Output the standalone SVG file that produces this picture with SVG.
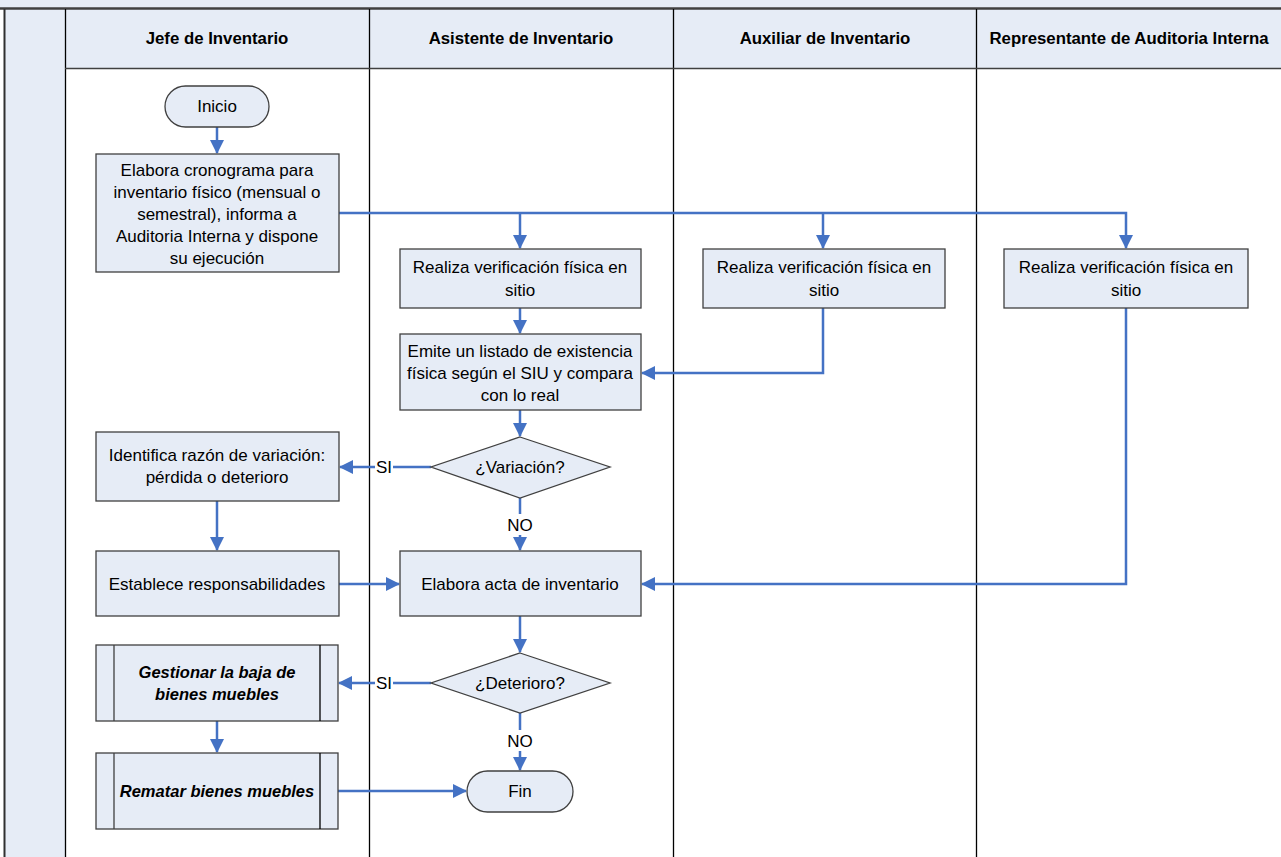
<svg xmlns="http://www.w3.org/2000/svg" width="1281" height="857" viewBox="0 0 1281 857">
<style>
.bx{fill:#E6ECF6;stroke:#404040;stroke-width:1.3}
.t{font-family:"Liberation Sans",Arial,sans-serif;font-size:17px;fill:#000;text-anchor:middle;dominant-baseline:central}
.h{font-weight:bold;font-size:16.8px}
.bi{font-weight:bold;font-style:italic;font-size:16.5px}
.c{fill:none;stroke:#4472C4;stroke-width:2.5}
.lane{stroke:#000;stroke-width:1.3}
</style>
<defs>
<marker id="a" markerWidth="14" markerHeight="14" refX="13" refY="7" orient="auto" markerUnits="userSpaceOnUse">
<path d="M0,0 L14,7 L0,14 Z" fill="#4472C4"/>
</marker>
</defs>
<g id="frame">
<rect x="0" y="0" width="1281" height="9" fill="#E6ECF6"/>
<rect x="5" y="9" width="60" height="848" fill="#E6ECF6"/>
<rect x="65" y="9" width="1216" height="59" fill="#E6ECF6"/>
<line x1="0" y1="8.5" x2="1281" y2="8.5" stroke="#404040" stroke-width="2.5"/>
<line x1="4.5" y1="9" x2="4.5" y2="857" stroke="#303030" stroke-width="2"/>
<line class="lane" x1="65.5" y1="9" x2="65.5" y2="857"/>
<line class="lane" x1="369.5" y1="9" x2="369.5" y2="857"/>
<line class="lane" x1="673.5" y1="9" x2="673.5" y2="857"/>
<line class="lane" x1="976.5" y1="9" x2="976.5" y2="857"/>
<line x1="65" y1="68.5" x2="1281" y2="68.5" stroke="#404040" stroke-width="1.3"/>
<text class="t h" x="217" y="38">Jefe de Inventario</text>
<text class="t h" x="521" y="38">Asistente de Inventario</text>
<text class="t h" x="825" y="38">Auxiliar de Inventario</text>
<text class="t h" x="1129" y="38">Representante de Auditoria Interna</text>
</g>
<g id="connectors">
<path class="c" d="M217,127 V153" marker-end="url(#a)"/>
<path class="c" d="M339,213 H1126 V248" marker-end="url(#a)"/>
<path class="c" d="M520,213 V248" marker-end="url(#a)"/>
<path class="c" d="M823,213 V248" marker-end="url(#a)"/>
<path class="c" d="M520,308 V333" marker-end="url(#a)"/>
<path class="c" d="M823,308 V373 H642" marker-end="url(#a)"/>
<path class="c" d="M1126,308 V584 H642" marker-end="url(#a)"/>
<path class="c" d="M520,410 V436" marker-end="url(#a)"/>
<path class="c" d="M431,467 H393 M375,467 H340" marker-end="url(#a)"/>
<path class="c" d="M520,498 V514 M520,535 V550" marker-end="url(#a)"/>
<path class="c" d="M217,501 V550" marker-end="url(#a)"/>
<path class="c" d="M339,584 H399" marker-end="url(#a)"/>
<path class="c" d="M520,616 V652" marker-end="url(#a)"/>
<path class="c" d="M431,683 H393 M375,683 H339" marker-end="url(#a)"/>
<path class="c" d="M520,713 V730 M520,751 V770" marker-end="url(#a)"/>
<path class="c" d="M217,721 V752" marker-end="url(#a)"/>
<path class="c" d="M338,791 H466" marker-end="url(#a)"/>
<text class="t" x="384" y="467">SI</text>
<text class="t" x="520" y="525">NO</text>
<text class="t" x="384" y="683">SI</text>
<text class="t" x="520" y="741">NO</text>
</g>
<g id="inicio">
<rect class="bx" x="165" y="86" width="104" height="41" rx="20.5"/>
<text class="t" x="217" y="106">Inicio</text>
</g>
<g id="elabora">
<rect class="bx" x="96" y="154" width="243" height="118"/>
<text class="t" x="217" y="170">Elabora cronograma para</text>
<text class="t" x="217" y="192">inventario físico (mensual o</text>
<text class="t" x="217" y="214">semestral), informa a</text>
<text class="t" x="217" y="236">Auditoria Interna y dispone</text>
<text class="t" x="217" y="258">su ejecución</text>
</g>
<g id="verif1">
<rect class="bx" x="400" y="249" width="241" height="59"/>
<text class="t" x="520" y="267">Realiza verificación física en</text>
<text class="t" x="520" y="290">sitio</text>
</g>
<g id="verif2">
<rect class="bx" x="703" y="249" width="242" height="59"/>
<text class="t" x="824" y="267">Realiza verificación física en</text>
<text class="t" x="824" y="290">sitio</text>
</g>
<g id="verif3">
<rect class="bx" x="1004" y="249" width="244" height="59"/>
<text class="t" x="1126" y="267">Realiza verificación física en</text>
<text class="t" x="1126" y="290">sitio</text>
</g>
<g id="emite">
<rect class="bx" x="400" y="334" width="241" height="76"/>
<text class="t" x="520" y="351">Emite un listado de existencia</text>
<text class="t" x="520" y="373">física según el SIU y compara</text>
<text class="t" x="520" y="395">con lo real</text>
</g>
<g id="variacion">
<polygon class="bx" points="520,437 610,467 520,498 431,467"/>
<text class="t" x="520" y="467">¿Variación?</text>
</g>
<g id="identifica">
<rect class="bx" x="96" y="432" width="243" height="69"/>
<text class="t" x="217" y="455">Identifica razón de variación:</text>
<text class="t" x="217" y="477">pérdida o deterioro</text>
</g>
<g id="establece">
<rect class="bx" x="96" y="551" width="243" height="65"/>
<text class="t" x="217" y="584">Establece responsabilidades</text>
</g>
<g id="acta">
<rect class="bx" x="400" y="551" width="241" height="65"/>
<text class="t" x="520" y="584">Elabora acta de inventario</text>
</g>
<g id="deterioro">
<polygon class="bx" points="520,653 610,683 520,713 431,683"/>
<text class="t" x="520" y="683">¿Deterioro?</text>
</g>
<g id="gestionar">
<rect class="bx" x="96" y="645" width="242" height="76"/>
<line x1="114" y1="645" x2="114" y2="721" stroke="#404040" stroke-width="1.3"/>
<line x1="320" y1="645" x2="320" y2="721" stroke="#000" stroke-width="1.3"/>
<text class="t bi" x="217" y="672">Gestionar la baja de</text>
<text class="t bi" x="217" y="694">bienes muebles</text>
</g>
<g id="rematar">
<rect class="bx" x="96" y="753" width="242" height="76"/>
<line x1="114" y1="753" x2="114" y2="829" stroke="#404040" stroke-width="1.3"/>
<line x1="320" y1="753" x2="320" y2="829" stroke="#000" stroke-width="1.3"/>
<text class="t bi" x="217" y="791">Rematar bienes muebles</text>
</g>
<g id="fin">
<rect class="bx" x="467" y="771" width="106" height="41" rx="20.5"/>
<text class="t" x="520" y="791">Fin</text>
</g>
</svg>
